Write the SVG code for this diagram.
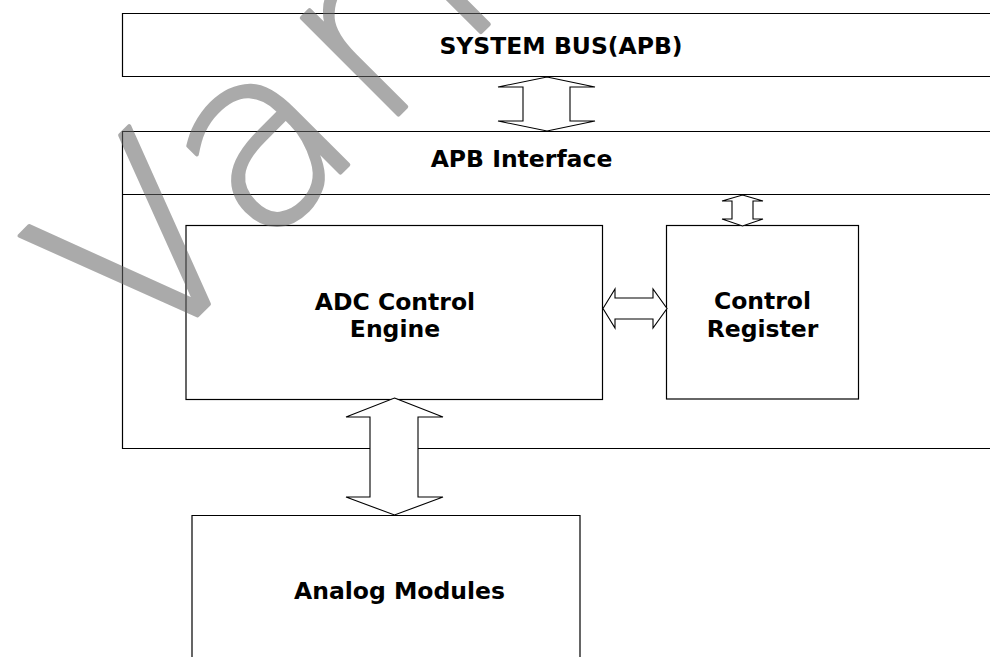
<svg xmlns="http://www.w3.org/2000/svg" width="990" height="657" viewBox="0 0 990 657">
  <style>
    .box { fill: #ffffff; stroke: #000000; stroke-width: 1.2; }
    .rule { fill: none; stroke: #000000; stroke-width: 1.2; }
    .arrow { fill: #ffffff; stroke: #000000; stroke-width: 1.1; stroke-linejoin: miter; }
    .label { font-family: "DejaVu Sans", Verdana, sans-serif; font-weight: bold; font-size: 23.5px; fill: #000000; text-anchor: middle; }
    .mark { font-family: "DejaVu Sans", sans-serif; font-weight: 200; font-size: 250px; letter-spacing: 14px; fill: #666666; stroke: #666666; stroke-width: 4; stroke-linejoin: round; }
  </style>

  <rect width="990" height="657" fill="#ffffff"/>

  <!-- system bus strip, open on the right -->
  <g id="system-bus">
    <path class="rule" d="M1000,13.5 H122.5 V76.5 H1000"/>
    <text class="label" x="561" y="54">SYSTEM BUS(APB)</text>
  </g>

  <!-- APB block with its interface band, open on the right -->
  <g id="apb-block">
    <path class="rule" d="M1000,131.5 H122.5 V448.5 H1000"/>
    <line class="rule" x1="122.5" y1="194.5" x2="1000" y2="194.5"/>
    <text class="label" x="521.5" y="167">APB Interface</text>
  </g>

  <g id="adc-engine">
    <rect class="box" x="186" y="225.5" width="416.5" height="174"/>
    <text class="label" x="395" y="310">ADC Control</text>
    <text class="label" x="395" y="337.3">Engine</text>
  </g>

  <g id="control-register">
    <rect class="box" x="666.5" y="225.5" width="192" height="173.5"/>
    <text class="label" x="762.5" y="308.5">Control</text>
    <text class="label" x="762.5" y="336.7">Register</text>
  </g>

  <g id="analog-modules">
    <path class="box" d="M192,670 V515.5 H580 V670"/>
    <text class="label" x="399.5" y="599">Analog Modules</text>
  </g>

  <!-- bidirectional block arrows -->
  <g id="connectors">
    <polygon class="arrow" points="547,77 595,87 570,87 570,121 595,121 547,131 498,121 523,121 523,87 498,87"/>
    <polygon class="arrow" points="742.5,195 763,201 753,201 753,219 763,219 742.5,226 722,219 732,219 732,201 722,201"/>
    <polygon class="arrow" points="603,308.5 615,289 615,298 653,298 653,289 667,308.5 653,328 653,319 615,319 615,328"/>
    <polygon class="arrow" points="394.5,398 443,417 418,417 418,497 443,497 394.5,515 346,497 370,497 370,417 346,417"/>
  </g>

  <!-- diagonal watermark lettering, composited once at partial opacity -->
  <g opacity="0.55">
    <text class="mark" transform="translate(143,370) rotate(-45)">Vari</text>
  </g>
</svg>
